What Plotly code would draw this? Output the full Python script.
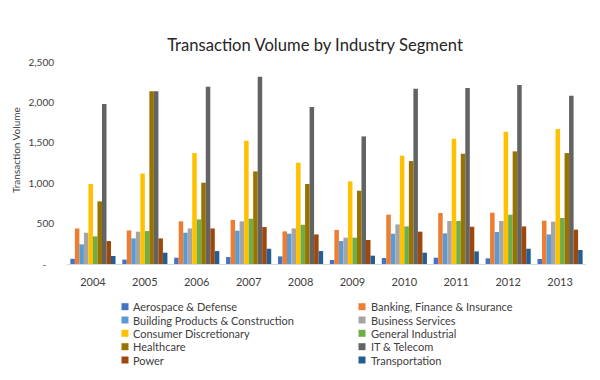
import plotly.graph_objects as go

years = ["2004", "2005", "2006", "2007", "2008", "2009", "2010", "2011", "2012", "2013"]

aerospace = [64, 54, 78, 86, 94, 50, 74, 78, 70, 62]
banking = [440, 416, 528, 545, 404, 421, 610, 631, 635, 536]
building = [243, 317, 387, 412, 375, 284, 375, 379, 396, 366]
business = [387, 400, 440, 528, 440, 326, 490, 532, 532, 524]
consumer = [990, 1120, 1373, 1525, 1253, 1022, 1340, 1550, 1637, 1670]
general = [342, 408, 552, 560, 486, 326, 465, 532, 610, 569]
healthcare = [775, 2137, 1006, 1146, 990, 907, 1274, 1365, 1394, 1373]
it_telecom = [1980, 2137, 2194, 2318, 1942, 1579, 2170, 2178, 2215, 2083]
power = [284, 317, 440, 457, 366, 297, 400, 461, 465, 425]
transportation = [99, 140, 160, 189, 160, 103, 140, 156, 189, 173]

series_names = ["Aerospace & Defense", "Banking, Finance & Insurance",
                "Building Products & Construction", "Business Services",
                "Consumer Discretionary", "General Industrial",
                "Healthcare", "IT & Telecom", "Power", "Transportation"]
series_values = [aerospace, banking, building, business, consumer, general,
                 healthcare, it_telecom, power, transportation]
colors = ["#4472C4", "#ED7D31", "#5B9BD5", "#A5A5A5", "#FFC000", "#70AD47",
          "#997300", "#636363", "#9E480E", "#255E91"]

y_tick_vals = [0, 500, 1000, 1500, 2000, 2500]
y_tick_text = ["-\u00a0\u00a0\u00a0", "500", "1,000", "1,500", "2,000", "2,500"]

OFF = 8  # page body margin
W, H = 600 - OFF, 380 - OFF
L, R, T, B = 67 - OFF, 586 - OFF, 62 - OFF, 264 - OFF

def px(x):
    return (x - OFF - L) / (R - L)

def py(y):
    return (B - (y - OFF)) / (B - T)

FONT = "Lato"

fig = go.Figure()
for name, vals, col in zip(series_names, series_values, colors):
    fig.add_trace(go.Bar(x=years, y=vals, name=name, marker_color=col,
                         marker_line_width=0, showlegend=False))

annotations = []
shapes = []
row_y = [306.7, 320.0, 333.3, 346.7, 360.0]
col_marker_x = [125, 362]
col_text_x = [131, 369]
for i, (name, col) in enumerate(zip(series_names, colors)):
    r, c = i // 2, i % 2
    yy = row_y[r]
    shapes.append(dict(type="rect", xref="paper", yref="paper",
                       x0=px(col_marker_x[c] - 3.5), x1=px(col_marker_x[c] + 3.5),
                       y0=py(yy + 3.5), y1=py(yy - 3.5),
                       fillcolor=col, line_width=0))
    annotations.append(dict(text=name, xref="paper", yref="paper",
                            x=px(col_text_x[c]), y=py(yy), xanchor="left",
                            yanchor="middle", showarrow=False,
                            font=dict(family=FONT, size=11, color="#404040")))

annotations.append(dict(text="Transaction Volume", xref="paper", yref="paper",
                        x=px(16), y=py(150), textangle=-90, showarrow=False,
                        xanchor="center", yanchor="middle",
                        font=dict(family=FONT, size=10, color="#404040")))

fig.update_layout(
    width=W, height=H,
    margin=dict(l=L, r=W - R, t=T, b=H - B),
    paper_bgcolor="white", plot_bgcolor="white",
    barmode="group", bargap=0.13, bargroupgap=0,
    title=dict(text="Transaction Volume by Industry Segment",
               x=(315 - OFF) / W, xref="container", xanchor="center",
               y=1 - (45 - OFF) / H, yref="container", yanchor="middle",
               font=dict(family=FONT, size=16.6, color="#262626")),
    annotations=annotations,
    shapes=shapes,
    showlegend=False,
)
fig.update_xaxes(showgrid=False, showline=True, linecolor="#D9D9D9", linewidth=1,
                 ticks="", tickfont=dict(family=FONT, size=11, color="#404040"),
                 ticklabelstandoff=8)
fig.update_yaxes(range=[0, 2500], showgrid=False, zeroline=False, showline=False,
                 tickvals=y_tick_vals, ticktext=y_tick_text, ticks="",
                 tickfont=dict(family=FONT, size=10, color="#404040"),
                 ticklabelstandoff=12)

fig.write_html("out.html")
